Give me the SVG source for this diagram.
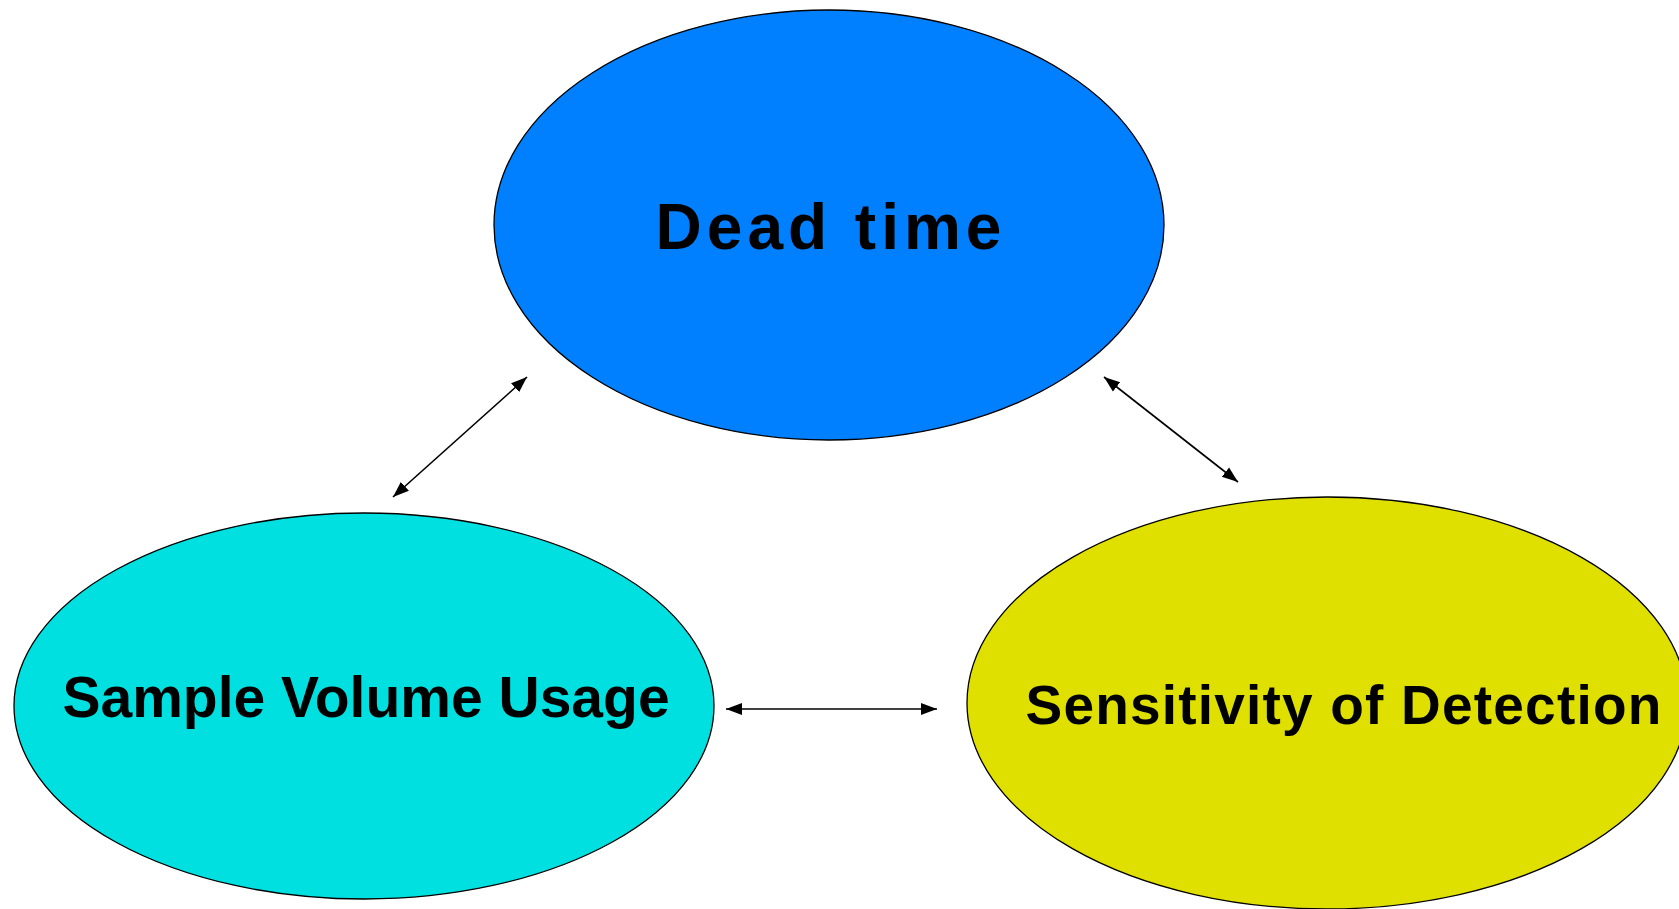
<svg xmlns="http://www.w3.org/2000/svg" width="1679" height="909" viewBox="0 0 1679 909">
<style>
.node{stroke:#000;stroke-width:1.3}
.lbl{font-family:"Liberation Sans",Arial,sans-serif;font-weight:bold;fill:#000;text-anchor:middle}
.conn{stroke:#000;stroke-width:1.6;fill:none;marker-start:url(#ah);marker-end:url(#ah)}
</style>
<defs>
<marker id="ah" markerUnits="userSpaceOnUse" markerWidth="18" markerHeight="14" refX="16" refY="7" orient="auto-start-reverse">
<path d="M0,1 L16,7 L0,13 Z" fill="#000"/>
</marker>
</defs>
<rect width="1679" height="909" fill="#fff"/>
<g id="dead-time">
<ellipse class="node" cx="829" cy="225" rx="335" ry="215" fill="#0080FF"/>
<text class="lbl" x="831" y="249" font-size="64" letter-spacing="5">Dead time</text>
</g>
<g id="sample-volume">
<ellipse class="node" cx="364" cy="706" rx="350" ry="193" fill="#00E0E0"/>
<text class="lbl" x="366" y="717" font-size="57">Sample Volume Usage</text>
</g>
<g id="sensitivity">
<ellipse class="node" cx="1327" cy="703" rx="360" ry="206" fill="#E0E000"/>
<text class="lbl" x="1344" y="724" font-size="55" letter-spacing="1.2">Sensitivity of Detection</text>
</g>
<g id="connectors">
<line class="conn" x1="393" y1="497" x2="527" y2="377"/>
<line class="conn" x1="1104" y1="377" x2="1238" y2="482"/>
<line class="conn" x1="726" y1="709" x2="937" y2="709"/>
</g>
</svg>
